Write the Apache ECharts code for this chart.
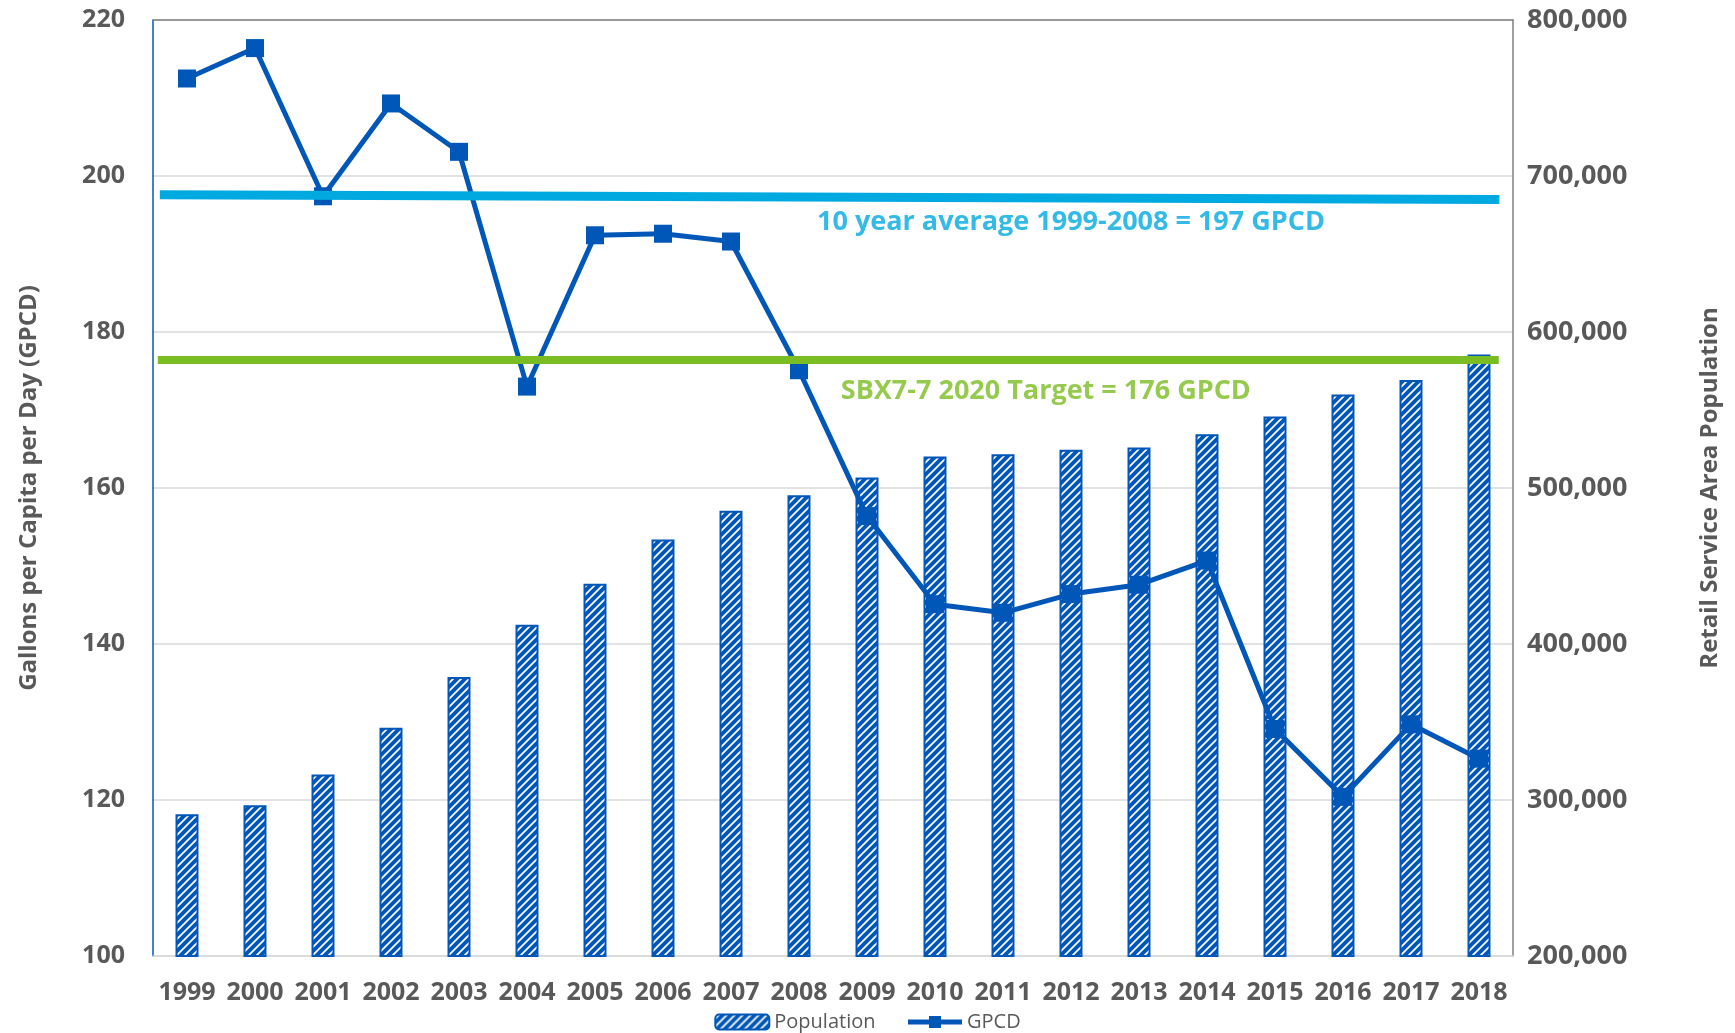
<!DOCTYPE html>
<html>
<head>
<meta charset="utf-8">
<script src="https://cdn.jsdelivr.net/npm/echarts@6/dist/echarts.min.js"></script>
<style>
  html, body { margin: 0; padding: 0; background: #fff; }
  #main { width: 1735px; height: 1033px; }
</style>
</head>
<body>
<div id="main"></div>
<script>
// data
var years = ['1999', '2000', '2001', '2002', '2003', '2004', '2005', '2006', '2007', '2008',
             '2009', '2010', '2011', '2012', '2013', '2014', '2015', '2016', '2017', '2018'];
var population = [290900, 296600, 316400, 346300, 378900, 412300, 438600, 467000, 485400, 495400,
                  506700, 520200, 521700, 524500, 525900, 534400, 545800, 560000, 569200, 585600];
var gpcd = [212.5, 216.4, 197.4, 209.3, 203.1, 173.0, 192.4, 192.6, 191.6, 175.1,
            156.4, 145.1, 144.0, 146.4, 147.6, 150.7, 129.1, 120.4, 129.7, 125.3];
// reference lines: [x start, x end] in category units, [y start, y end] in GPCD
var avgX = [-0.4, 19.3];
var avgY = [197.6, 197.0];
var targetX = [-0.43, 19.29];
var targetY = [176.4, 176.4];
var notes = ['10 year average 1999-2008 = 197 GPCD', 'SBX7-7 2020 Target = 176 GPCD'];
var noteX = [13.0, 12.63];
var noteY = [194.1, 172.4];

var BLUE = '#0057b8';
var GREY = '#595959';
var FONT = '"Open Sans", "Noto Sans", sans-serif';

// stripe pattern for the bars
function stripes() {
  var c = document.createElement('canvas');
  c.width = 8; c.height = 8;
  var g = c.getContext('2d');
  g.fillStyle = '#fff';
  g.fillRect(0, 0, 8, 8);
  g.strokeStyle = BLUE;
  g.lineWidth = 3.9;
  g.beginPath();
  g.moveTo(-2, 10); g.lineTo(10, -2);
  g.moveTo(-10, 10); g.lineTo(2, -2);
  g.moveTo(6, 10); g.lineTo(18, -2);
  g.stroke();
  return c;
}

var myChart = echarts.init(document.getElementById('main'));
var option = {
  backgroundColor: '#fff',
  animation: false,
  grid: { left: 153, right: 222, top: 20, bottom: 77 },
  legend: {
    bottom: -4,
    left: 'center',
    data: [
      { name: 'Population' },
      { name: 'GPCD', lineStyle: { width: 5 } }
    ],
    itemGap: 30,
    itemWidth: 54,
    itemHeight: 15,
    textStyle: { fontFamily: FONT, fontSize: 20, color: GREY }
  },
  xAxis: [{
    type: 'category',
    data: years,
    axisLine: { lineStyle: { color: '#d9d9d9', width: 1.5 } },
    axisTick: { show: false },
    axisLabel: { interval: 0, margin: 24, fontFamily: FONT, fontSize: 25, fontWeight: 'bold', color: GREY }
  }, {
    type: 'value',
    position: 'top',
    min: -0.5,
    max: 19.5,
    axisLine: { show: true, onZero: false, lineStyle: { color: '#808080', width: 1.5 } },
    axisTick: { show: false },
    axisLabel: { show: false },
    splitLine: { show: false }
  }],
  yAxis: [{
    type: 'value',
    min: 100,
    max: 220,
    interval: 20,
    name: 'Gallons per Capita per Day (GPCD)',
    nameLocation: 'middle',
    nameRotate: 90,
    nameGap: 112,
    nameTextStyle: { fontFamily: FONT, fontSize: 24, fontWeight: 'bold', color: GREY },
    axisLine: { show: true, onZero: false, lineStyle: { color: BLUE, width: 1.5 } },
    axisTick: { show: false },
    axisLabel: { margin: 28, fontFamily: FONT, fontSize: 25, fontWeight: 'bold', color: GREY },
    splitLine: { lineStyle: { color: '#d9d9d9', width: 1.5 } }
  }, {
    type: 'value',
    min: 200000,
    max: 800000,
    interval: 100000,
    position: 'right',
    name: 'Retail Service Area Population',
    nameLocation: 'middle',
    nameRotate: 90,
    nameGap: 185,
    nameTextStyle: { fontFamily: FONT, fontSize: 24, fontWeight: 'bold', color: GREY },
    axisLine: { show: true, onZero: false, lineStyle: { color: '#808080', width: 1.5 } },
    axisTick: { show: false },
    splitLine: { show: false },
    axisLabel: {
      margin: 14, fontFamily: FONT, fontSize: 27, fontWeight: 'bold', color: GREY,
      formatter: function (v) { return v.toLocaleString('en-US'); }
    }
  }],
  series: [{
    name: 'Population',
    type: 'bar',
    yAxisIndex: 1,
    barWidth: 23,
    z: 1,
    data: population,
    itemStyle: {
      color: { image: stripes(), repeat: 'repeat' },
      borderColor: BLUE,
      borderWidth: 2
    }
  }, {
    name: 'GPCD',
    type: 'line',
    yAxisIndex: 0,
    z: 3,
    data: gpcd,
    symbol: 'rect',
    symbolSize: 18,
    lineStyle: { color: BLUE, width: 5 },
    itemStyle: { color: BLUE }
  }, {
    name: 'avg',
    type: 'line',
    xAxisIndex: 1,
    yAxisIndex: 0,
    z: 4,
    symbol: 'none',
    data: avgX.map(function (x, i) { return [x, avgY[i]]; }),
    lineStyle: { color: '#00a9e0', width: 9 }
  }, {
    name: 'target',
    type: 'line',
    xAxisIndex: 1,
    yAxisIndex: 0,
    z: 4,
    symbol: 'none',
    data: targetX.map(function (x, i) { return [x, targetY[i]]; }),
    lineStyle: { color: '#7abd22', width: 8 }
  }, {
    name: 'notes',
    type: 'scatter',
    xAxisIndex: 1,
    yAxisIndex: 0,
    z: 5,
    symbolSize: 0,
    silent: true,
    data: notes.map(function (t, i) {
      return {
        value: [noteX[i], noteY[i]],
        label: {
          show: true,
          position: 'inside',
          formatter: t,
          fontFamily: FONT,
          fontSize: 27,
          fontWeight: 'bold',
          color: i === 0 ? '#00a9e0' : '#7abd22'
        }
      };
    })
  }]
};
myChart.setOption(option, true);
</script>
</body>
</html>
